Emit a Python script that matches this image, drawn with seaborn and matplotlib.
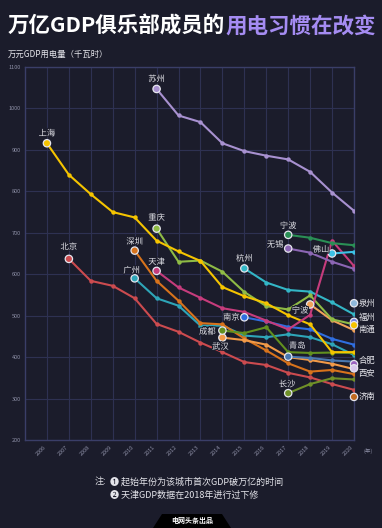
import pandas as pd
import matplotlib.pyplot as plt
import seaborn as sns
import matplotlib.patheffects as pe
from matplotlib.patches import Polygon

# 万元GDP用电量（千瓦时）; each list starts in the year the city first passed 1 trillion GDP
shanghai = [916, 840, 793, 750, 737, 681, 655, 632, 569, 547, 530, 501, 479, 412, 412]  # 2006-
beijing = [637, 584, 572, 542, 480, 461, 435, 412, 388, 381, 362, 351, 335, 321]       # 2007-
guangzhou = [590, 542, 524, 476, 476, 452, 448, 455, 448, 431, 405]                   # 2010-
shenzhen = [657, 584, 536, 482, 479, 445, 416, 385, 365, 369, 359]                    # 2010-
tianjin = [608, 568, 543, 518, 509, 488, 467, 502, 681, 620]                          # 2011-
suzhou = [1047, 983, 967, 916, 897, 886, 877, 847, 797, 753]                          # 2011-
chongqing = [710, 630, 633, 606, 557, 523, 515, 549, 491, 479]                        # 2011-
chengdu = [464, 458, 472, 412, 410, 411, 410]                                         # 2014-
wuhan = [447, 441, 430, 400, 393, 384, 371]                                           # 2014-
hangzhou = [614, 580, 562, 558, 532, 503]                                             # 2015-
nanjing = [496, 486, 473, 467, 444, 430]                                              # 2015-
qingdao = [401, 398, 392, 389]                                                        # 2017-
wuxi = [662, 652, 630, 613]                                                           # 2017-
changsha = [313, 335, 349, 346]                                                       # 2017-
ningbo_a = [695, 688, 675, 670]                                                       # 2017-
ningbo_b = [527, 489, 465]                                                            # 2018-
foshan = [650, 654]                                                                   # 2019-

# cities that only joined in 2020
new_cities = ["泉州", "福州", "南通", "合肥", "西安", "济南"]
new_values = [530, 485, 477, 383, 373, 304]
new_colors = ["#8fb8dc", "#6d7fe0", "#f5c400", "#9a62c0", "#d9c8ee", "#c06a1e"]
new_offsets = [(13, 0), (13, 4), (13, -4), (13, 4), (13, -5), (13, 0)]

years = list(range(2006, 2021))

# key, label, start year, values, colour, label offset (pixels)
series = [
    ("bj", "北京", 2007, beijing, "#cc4b4f", (0, 12)),
    ("gz", "广州", 2010, guangzhou, "#2ea5b8", (-3, 8)),
    ("sz", "深圳", 2010, shenzhen, "#d8731c", (0, 9)),
    ("wh", "武汉", 2014, wuhan, "#f29a48", (-2, -9)),
    ("cd", "成都", 2014, chengdu, "#62901f", (-15, -1)),
    ("cs", "长沙", 2017, changsha, "#6f9028", (-1, 9)),
    ("qd", "青岛", 2017, qingdao, "#4a78b0", (9, 11)),
    ("nj", "南京", 2015, nanjing, "#2f6ee0", (-13, 0)),
    ("hz", "杭州", 2015, hangzhou, "#33b6c6", (0, 10)),
    ("nb2", "宁波", 2018, ningbo_b, "#f0a25a", (-10, -6)),
    ("cq", "重庆", 2011, chongqing, "#8fbb45", (0, 11)),
    ("sh", "上海", 2006, shanghai, "#f5c400", (0, 10)),
    ("tj", "天津", 2011, tianjin, "#c63c7c", (0, 9)),
    ("wx", "无锡", 2017, wuxi, "#8c66b4", (-13, 4)),
    ("nb", "宁波", 2017, ningbo_a, "#2a8f55", (0, 9)),
    ("fs", "佛山", 2019, foshan, "#3cc2e6", (-11, 4)),
    ("su", "苏州", 2011, suzhou, "#a891d0", (0, 10)),
]

rows = []
for key, name, start, vals, color, off in series:
    for i, v in enumerate(vals):
        rows.append({"key": key, "year": start + i, "value": v})
df = pd.DataFrame(rows)
starts = df.groupby("key", sort=False).first().reset_index()
palette = {s[0]: s[4] for s in series}
order = [s[0] for s in series]

new_df = pd.DataFrame({"city": new_cities, "year": 2020, "value": new_values})

bg = "#1b1c2b"
sns.set_style("dark")
plt.rcParams["font.family"] = ["Noto Sans CJK SC", "DejaVu Sans"]

fig = plt.figure(figsize=(3.82, 5.28), dpi=100, facecolor=bg)
ax = fig.add_axes([25 / 382, 88 / 528, 329 / 382, 373 / 528])
ax.set_facecolor(bg)

sns.lineplot(data=df, x="year", y="value", hue="key", hue_order=order, palette=palette,
             marker="o", markersize=3.2, markeredgewidth=0, linewidth=1.5,
             legend=False, ax=ax, zorder=3)
sns.scatterplot(data=starts, x="year", y="value", hue="key", palette=palette, s=28,
                edgecolor="#e6e6ee", linewidth=0.9, legend=False, ax=ax, zorder=6, clip_on=False)
sns.scatterplot(data=new_df, x="year", y="value", hue="city", palette=dict(zip(new_cities, new_colors)),
                s=28, edgecolor="#e6e6ee", linewidth=0.9, legend=False, ax=ax, zorder=6, clip_on=False)

stroke = [pe.withStroke(linewidth=1.6, foreground=bg)]
start_pts = starts.set_index("key")
for key, name, start, vals, color, off in series:
    r = start_pts.loc[key]
    ax.annotate(name, (r["year"], r["value"]), xytext=off, textcoords="offset pixels",
                ha="center", va="center", fontsize=6, color="#e4e4ea", zorder=8,
                path_effects=stroke, annotation_clip=False)
for city, v, off in zip(new_cities, new_values, new_offsets):
    ax.annotate(city, (2020, v), xytext=off, textcoords="offset pixels",
                ha="center", va="center", fontsize=6, color="#e4e4ea", zorder=8,
                annotation_clip=False)

ax.set_xlim(2005, 2020)
ax.set_ylim(200, 1100)
ax.set_xticks(years)
ax.set_xticklabels([str(y) for y in years], rotation=45, ha="right", fontsize=4, color="#8d8fa6")
ax.set_yticks(range(200, 1101, 100))
ax.set_yticklabels([str(y) for y in range(200, 1101, 100)], fontsize=4, color="#8d8fa6")
ax.tick_params(length=0, pad=3)
ax.grid(True, color="#2e3152", linewidth=0.8)
ax.set_axisbelow(True)
for side in ax.spines:
    ax.spines[side].set_visible(True)
    ax.spines[side].set_color("#3a3e68")
    ax.spines[side].set_linewidth(1.0)
ax.set_xlabel("")
ax.set_ylabel("")
ax.text(1.03, -0.03, "(年)", transform=ax.transAxes, fontsize=4, color="#8d8fa6", va="center")

# title in two colours
t1 = fig.text(8 / 382, 1 - 26 / 528, "万亿GDP俱乐部成员的", fontsize=15.5, fontweight="black",
              color="white", va="center", ha="left")
fig.canvas.draw()
bb = t1.get_window_extent()
fig.text(bb.x1 / fig.bbox.width, 1 - 26 / 528, "用电习惯在改变", fontsize=15.5, fontweight="black",
         color="#a58cf2", va="center", ha="left")
fig.text(8 / 382, 1 - 54 / 528, "万元GDP用电量（千瓦时）", fontsize=6, color="#e4e4ea", va="center")

fig.text(95 / 382, 1 - 482 / 528, "注:", fontsize=6.5, color="#e4e4ea", va="center")
fig.text(110 / 382, 1 - 482 / 528, "❶ 起始年份为该城市首次GDP破万亿的时间", fontsize=6.5,
         color="#e4e4ea", va="center")
fig.text(110 / 382, 1 - 495 / 528, "❷ 天津GDP数据在2018年进行过下修", fontsize=6.5,
         color="#e4e4ea", va="center")

tab = [(153, 528), (162, 514), (222, 514), (231, 528)]
fig.patches.append(Polygon([(x / 382, 1 - y / 528) for x, y in tab], closed=True,
                           transform=fig.transFigure, facecolor="black", edgecolor="none"))
fig.text(192 / 382, 1 - 521 / 528, "电网头条出品", fontsize=5, fontweight="bold",
         color="white", ha="center", va="center")

fig.savefig("out.png", dpi=100, facecolor=bg)
